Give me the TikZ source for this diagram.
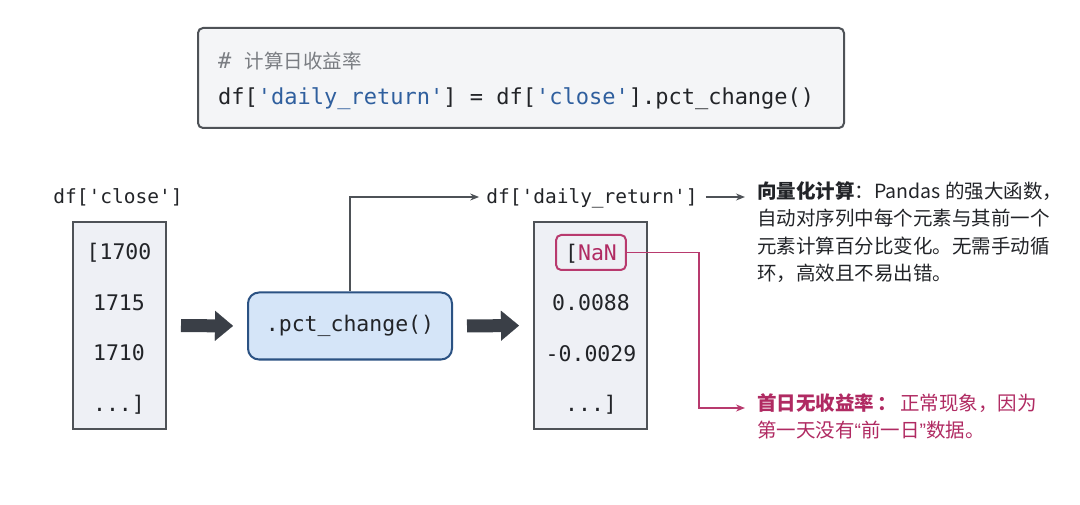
\documentclass[tikz,border=0pt]{standalone}
\usepackage{fontspec}
\setmainfont{Noto Sans CJK SC}
\setmonofont{DejaVu Sans Mono}
\newfontfamily\quotefont{Liberation Sans}
\usetikzlibrary{arrows.meta,positioning,calc}
\usepackage{xcolor}
\definecolor{ink}{HTML}{222428}
\definecolor{edgegray}{HTML}{4E5257}
\definecolor{boxgray}{HTML}{EEF0F5}
\definecolor{codegray}{HTML}{F4F5F7}
\definecolor{cmtgray}{HTML}{7A7D82}
\definecolor{strblue}{HTML}{2F5F9E}
\definecolor{funcfill}{HTML}{D5E5F8}
\definecolor{funcedge}{HTML}{2B5283}
\definecolor{fatgray}{HTML}{3A3F47}
\definecolor{pinkline}{HTML}{B83A6E}
\definecolor{pinktext}{HTML}{B02A62}

\begin{document}
\begin{tikzpicture}[x=1pt, y=-1pt,
    box/.style={rectangle, draw=edgegray, line width=2pt, fill=boxgray, minimum height=207pt, minimum width=#1},
    box/.default=93pt,
    codebox/.style={rectangle, draw=edgegray, line width=2pt, fill=codegray, rounded corners=5pt, minimum width=646pt, minimum height=100pt},
    funcbox/.style={rectangle, draw=funcedge, line width=2pt, fill=funcfill, rounded corners=11pt, minimum width=204pt, minimum height=67pt, font=\fontsize{21.5}{24}\selectfont\ttfamily, text=ink},
    code/.style={font=\fontsize{22}{26}\selectfont\ttfamily, text=ink, inner sep=0pt, text height=16pt, text depth=0pt},
    val/.style={font=\fontsize{21.5}{24}\selectfont\ttfamily, text=ink, inner sep=0pt, text height=15.5pt, text depth=0pt},
    lbl/.style={font=\fontsize{19.5}{22}\selectfont\ttfamily, text=ink, inner sep=0pt, text height=14pt, text depth=0pt},
    note/.style={font=\fontsize{19.5}{27.5}\selectfont, align=left, inner sep=0pt},
    arr/.style={-{Stealth[length=9pt, width=7pt]}, line width=1.3pt, draw=edgegray},
    pinkarr/.style={-{Stealth[length=9pt, width=7pt]}, line width=1.5pt, draw=pinkline},
    fat/.style={-{Triangle[length=18pt, width=30pt, line width=0.1pt]}, line width=13pt, draw=fatgray, shorten <=14pt, shorten >=14pt}
]
\useasboundingbox (0,0) rectangle (1080,505);

% Code snippet on top
\node[codebox] (code) at (521,78) {};
\node[code, anchor=west, text=cmtgray] (cmt) at (218,61) {\# {\rmfamily\fontsize{19.5}{22}\selectfont 计算日收益率}};
\node[code, anchor=west] (stmt) at (218,97) {df[{\color{strblue}'daily\_return'}] = df[{\color{strblue}'close'}].pct\_change()};

% Input series df['close']
\node[lbl] (closelbl) at (118,197) {df['close']};
\node[box] (closebox) at (119.5,325.5) {};
\node[val] (c1) at (119,252) {[1700};
\node[val] (c2) at (119,303) {1715};
\node[val] (c3) at (119,353) {1710};
\node[val] (c4) at (119,404) {...]};

% The method call
\node[funcbox] (func) at (350,326) {.pct\_change()};

% Output series df['daily_return']
\node[lbl] (retlbl) at (592,197) {df['daily\_return']};
\node[box=113pt] (retbox) at (590.5,325.5) {};
\node[val, draw=pinkline, line width=2pt, rounded corners=5pt, inner xsep=9pt, minimum height=35pt] (nan) at (591,252.5) {[{\color{pinktext}NaN}};
\node[val] (r2) at (591,303) {0.0088};
\node[val] (r3) at (591,354) {-0.0029};
\node[val] (r4) at (591,404) {...]};

% Notes
\node[note, anchor=north west, text=ink] (note) at (757,181)
    {\textbf{向量化计算}：Pandas 的强大函数，\\
    自动对序列中每个元素与其前一个\\
    元素计算百分比变化。无需手动循\\
    环，高效且不易出错。};
\node[note, anchor=north west, text=pinktext] (nannote) at (757,393)
    {\textbf{首日无收益率\,：}\,正常现象，因为\\
    第一天没有{\quotefont “}前一日{\quotefont ”}数据。};
\coordinate (notein) at (745,197);
\coordinate (nanin) at (745,408);

% Arrows
\draw[fat] (closebox.east) -- (func.west);
\draw[fat] (func.east) -- (retbox.west);
\draw[arr] (func.north) |- ([xshift=-7pt]retlbl.west);
\draw[arr] ([xshift=8pt]retlbl.east) -- (notein);
\draw[pinkarr] (nan.east) -- ++(72,0) |- (nanin);

\end{tikzpicture}
\end{document}
